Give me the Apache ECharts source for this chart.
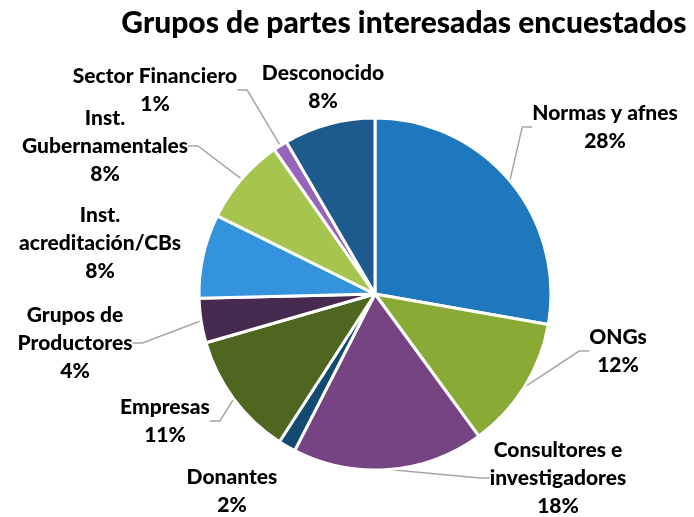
<!DOCTYPE html>
<html>
<head>
<meta charset="utf-8">
<script src="https://cdn.jsdelivr.net/npm/echarts@6/dist/echarts.min.js"></script>
<style>
  html, body { margin: 0; padding: 0; background: #fff; }
  #chart { width: 694px; height: 517px; }
</style>
</head>
<body>
<div id="chart"></div>
<script>
// datos (en el sentido de las agujas del reloj desde arriba)
var categorias = [
  "Normas y afnes",
  "ONGs",
  "Consultores e\ninvestigadores",
  "Donantes",
  "Empresas",
  "Grupos de\nProductores",
  "Inst.\nacreditación/CBs",
  "Inst.\nGubernamentales",
  "Sector Financiero",
  "Desconocido"
];
// porcentajes estimados a partir de los ángulos de cada sector
var porcentajes = [27.8, 12.2, 17.6, 1.6, 11.4, 4.1, 7.7, 8.0, 1.3, 8.4];

var colores = ["#1f77bd", "#8aaa36", "#764482", "#124a72", "#4e6620",
               "#472a4f", "#3493dd", "#a6c54f", "#9664b8", "#1d5b8f"];
// posición (centro) de cada etiqueta
var posEtiquetas = [
  [605, 127], [618, 351], [558, 478], [232, 491], [165, 421],
  [75, 343], [100, 243], [105, 146], [155, 90], [323, 87]
];
var conLinea = [true, true, true, false, true, true, false, true, true, false];

var myChart = echarts.init(document.getElementById("chart"));
myChart.setOption({
  animation: false,
  title: {
    text: "Grupos de partes interesadas encuestados",
    left: 399,
    textAlign: "center",
    top: 3,
    textStyle: { fontFamily: "Lato", fontWeight: 900, fontSize: 30, color: "#000" }
  },
  series: [{
    type: "pie",
    center: [375, 294],
    radius: 176,
    startAngle: 90,
    clockwise: true,
    itemStyle: { borderColor: "#fff", borderWidth: 3 },
    label: {
      formatter: function (p) { return p.name + "\n" + Math.round(p.value) + "%"; },
      fontFamily: "Lato",
      fontWeight: 900,
      fontSize: 21,
      lineHeight: 28,
      color: "#000",
      align: "center"
    },
    labelLine: { lineStyle: { color: "#a6a6a6", width: 1.5 }, length: 10, length2: 10 },
    labelLayout: function (params) {
      var p = posEtiquetas[params.dataIndex];
      return { x: p[0], y: p[1], align: "center", verticalAlign: "middle" };
    },
    data: categorias.map(function (c, i) {
      return {
        name: c,
        value: porcentajes[i],
        itemStyle: { color: colores[i] },
        labelLine: { show: conLinea[i] }
      };
    })
  }]
});
</script>
</body>
</html>
